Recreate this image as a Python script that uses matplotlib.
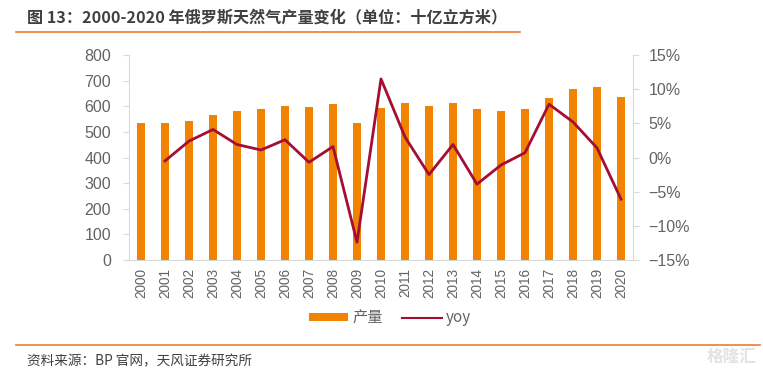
import matplotlib
matplotlib.use("Agg")
import matplotlib.pyplot as plt
from matplotlib.lines import Line2D
from matplotlib.patches import Patch
import numpy as np

plt.rcParams['font.family'] = ['Noto Sans CJK SC', 'DejaVu Sans']

years = [str(y) for y in range(2000, 2021)]
production = [535, 535, 543, 567, 580, 588, 602, 597, 609, 535, 594,
              614, 601, 611, 588, 583, 588, 634, 667, 677, 637]
yoy_years = years[1:]
yoy = [-0.5, 2.4, 4.1, 1.9, 1.1, 2.6, -0.7, 1.6, -12.4, 11.5,
       3.0, -2.5, 1.9, -3.9, -1.1, 0.7, 7.8, 5.2, 1.4, -6.1]

bar_color = '#F08300'
line_color = '#A50D32'
tick_color = '#636363'
spine_color = '#D9D9D9'

fig = plt.figure(figsize=(7.63, 3.73), dpi=100)
ax = fig.add_axes([129/763, 1-260/373, (633-129)/763, (260-55)/373])
x = np.arange(len(years))
ax.bar(x, production, width=0.35, color=bar_color, zorder=2)
ax.set_xlim(-0.5, len(years)-0.5)
ax.set_ylim(0, 800)
ax.set_yticks(range(0, 801, 100))
ax.set_xticks(x)
ax.set_xticklabels(years, rotation=90, family='Liberation Sans')
ax.tick_params(axis='x', length=0, pad=6, labelsize=9.8, labelcolor=tick_color)
ax.tick_params(axis='y', length=4, color=spine_color, labelsize=11.5, labelcolor=tick_color, pad=9)
for lbl in ax.get_yticklabels():
    lbl.set_family('Liberation Sans')
for s in ['top', 'right']:
    ax.spines[s].set_visible(False)
for s in ['left', 'bottom']:
    ax.spines[s].set_color(spine_color)

ax2 = ax.twinx()
yx = np.arange(1, len(years))
ax2.plot(yx, yoy, color=line_color, lw=2, zorder=3)
ax2.set_ylim(-15, 15)
ax2.set_yticks(range(-15, 16, 5))
ax2.set_yticklabels([f"{v}%".replace('-', '\u2212') for v in range(-15, 16, 5)], family='Liberation Sans')
ax2.tick_params(axis='y', length=4, color=spine_color, labelsize=11.5, labelcolor=tick_color, pad=7)
for s in ['top', 'left', 'bottom']:
    ax2.spines[s].set_visible(False)
ax2.spines['right'].set_color(spine_color)

handles = [Patch(facecolor=bar_color, edgecolor='none'),
           Line2D([0], [0], color=line_color, lw=1.5)]
fig.legend(handles, ['产量', 'yoy'], loc='center', bbox_to_anchor=(390/763, 1-318/373),
           ncol=2, frameon=False, fontsize=11, labelcolor=tick_color,
           handlelength=2.6, handleheight=0.5, columnspacing=1.2, handletextpad=0.3)

fig.text(27/763, 1-18/373, '图 13：2000-2020 年俄罗斯天然气产量变化（单位：十亿立方米）',
         fontsize=11.6, fontweight='bold', color='#404040', va='center', ha='left')
fig.add_artist(Line2D([16/763, 520/763], [1-32/373, 1-32/373], color='#ED7D31', lw=1.2))
fig.add_artist(Line2D([16/763, 760/763], [1-345/373, 1-345/373], color='#ED7D31', lw=1.2))
fig.text(27/763, 1-361/373, '资料来源：BP 官网，天风证券研究所', fontsize=9.8,
         color='#404040', va='center', ha='left')
fig.text(757/763, 1-357/373, '格隆汇', fontsize=12, fontweight='bold',
         color='#E3E3E3', va='center', ha='right')

fig.savefig('out.png', dpi=100)
